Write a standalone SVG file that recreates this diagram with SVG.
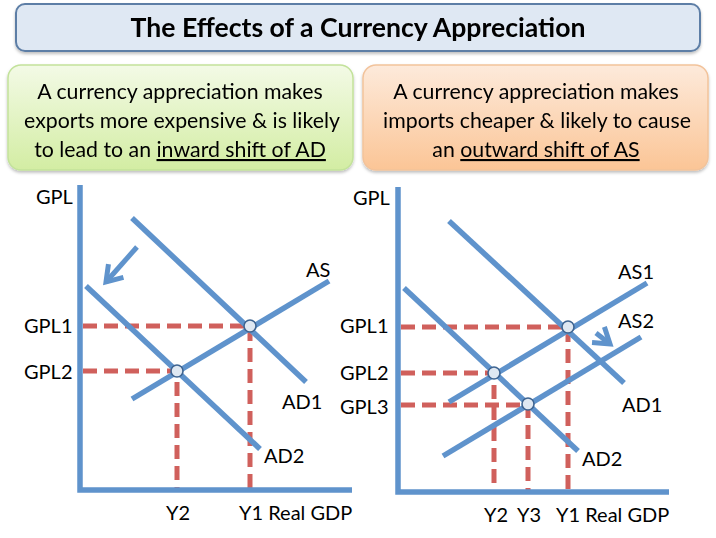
<svg xmlns="http://www.w3.org/2000/svg" width="716" height="538" viewBox="0 0 716 538">
<defs>
<linearGradient id="gGreen" x1="0" y1="0" x2="0" y2="1"><stop offset="0" stop-color="#f3fae6"/><stop offset="1" stop-color="#d3eda3"/></linearGradient>
<linearGradient id="gOrange" x1="0" y1="0" x2="0" y2="1"><stop offset="0" stop-color="#fdeadb"/><stop offset="1" stop-color="#fbc596"/></linearGradient>
<filter id="sh" x="-5%" y="-10%" width="110%" height="125%"><feDropShadow dx="0" dy="2" stdDeviation="1.5" flood-color="#000" flood-opacity="0.25"/></filter>
<marker id="arr" viewBox="0 0 24 24" refX="19" refY="12" markerWidth="24" markerHeight="24" orient="auto" markerUnits="userSpaceOnUse"><path d="M4,2 L19,12 L4,22" fill="none" stroke="#5f93cc" stroke-width="5" stroke-linejoin="miter"/></marker>
<style>
.t{font-family:Lato,"Liberation Sans",sans-serif;fill:#000;}
.lbl{font-family:Lato,"Liberation Sans",sans-serif;font-size:20px;fill:#000;}
.box{font-family:Lato,"Liberation Sans",sans-serif;font-size:21.3px;fill:#000;text-anchor:middle;}
.ax{stroke:#5f93cc;stroke-width:5.5;fill:none;stroke-linecap:butt;}
.cv{stroke:#5f93cc;stroke-width:5.5;fill:none;}
.ds{stroke:#d0605c;stroke-width:5;stroke-dasharray:14 7;fill:none;}
.pt{fill:#dfe8f2;stroke:#3e6491;stroke-width:1.6;}
</style>
</defs>
<g id="title" filter="url(#sh)">
<rect x="16" y="4" width="684" height="47" rx="9" fill="#dfe8f3" stroke="#5d7ea6" stroke-width="2"/>
<text class="t" x="358" y="37" font-size="26.6" font-weight="bold" text-anchor="middle">The Effects of a Currency Appreciation</text>
</g>
<g id="boxAD" filter="url(#sh)">
<rect x="8" y="65" width="345" height="105" rx="13" fill="url(#gGreen)" stroke="#c3e29b" stroke-width="1.5"/>
<text class="box" x="180" y="99">A currency appreciation makes</text>
<text class="box" x="182" y="128">exports more expensive &amp; is likely</text>
<text class="box" x="180" y="157">to lead to an <tspan text-decoration="underline">inward shift of AD</tspan></text>
</g>
<g id="boxAS" filter="url(#sh)">
<rect x="363" y="65" width="345" height="105" rx="13" fill="url(#gOrange)" stroke="#f2c39b" stroke-width="1.5"/>
<text class="box" x="536" y="99">A currency appreciation makes</text>
<text class="box" x="537" y="128">imports cheaper &amp; likely to cause</text>
<text class="box" x="536" y="157">an <tspan text-decoration="underline">outward shift of AS</tspan></text>
</g>
<g id="graph1">
<path class="ds" d="M83,326 H250 V488"/>
<path class="ds" d="M83,371 H177 V488"/>
<line class="cv" x1="132" y1="218" x2="306" y2="382"/>
<line class="cv" x1="86" y1="286" x2="260" y2="449"/>
<line class="cv" x1="132" y1="399" x2="329" y2="281"/>
<path class="ax" d="M80,185 V490 H352"/>
<circle class="pt" cx="250" cy="326" r="6"/>
<circle class="pt" cx="177" cy="371" r="6"/>
<line stroke="#5f93cc" stroke-width="5" x1="137" y1="247" x2="106" y2="282" marker-end="url(#arr)"/>
<text class="lbl" x="36" y="204">GPL</text>
<text class="lbl" x="24" y="333">GPL1</text>
<text class="lbl" x="24" y="379">GPL2</text>
<text class="lbl" x="306" y="277">AS</text>
<text class="lbl" x="282" y="409">AD1</text>
<text class="lbl" x="264" y="463">AD2</text>
<text class="lbl" x="166" y="520">Y2</text>
<text class="lbl" x="239" y="520">Y1 Real GDP</text>
</g>
<g id="graph2">
<path class="ds" d="M401,327 H568 V490"/>
<path class="ds" d="M401,373 H494 V490"/>
<path class="ds" d="M401,405 H528 V490"/>
<line class="cv" x1="449" y1="221" x2="624" y2="383"/>
<line class="cv" x1="404" y1="288" x2="578" y2="451"/>
<line class="cv" x1="449" y1="402" x2="647" y2="283"/>
<line class="cv" x1="443" y1="456" x2="641" y2="337"/>
<path class="ax" d="M398,187 V492 H669"/>
<circle class="pt" cx="568" cy="327" r="6"/>
<circle class="pt" cx="494" cy="373" r="6"/>
<circle class="pt" cx="528" cy="404" r="6"/>
<line stroke="#5f93cc" stroke-width="5" x1="596" y1="333" x2="610" y2="344" marker-end="url(#arr)"/>
<text class="lbl" x="353" y="205">GPL</text>
<text class="lbl" x="340" y="333">GPL1</text>
<text class="lbl" x="340" y="380">GPL2</text>
<text class="lbl" x="340" y="414">GPL3</text>
<text class="lbl" x="618" y="279">AS1</text>
<text class="lbl" x="618" y="328">AS2</text>
<text class="lbl" x="622" y="412">AD1</text>
<text class="lbl" x="582" y="466">AD2</text>
<text class="lbl" x="484" y="522">Y2</text>
<text class="lbl" x="517" y="522">Y3</text>
<text class="lbl" x="556" y="522">Y1 Real GDP</text>
</g>
</svg>
